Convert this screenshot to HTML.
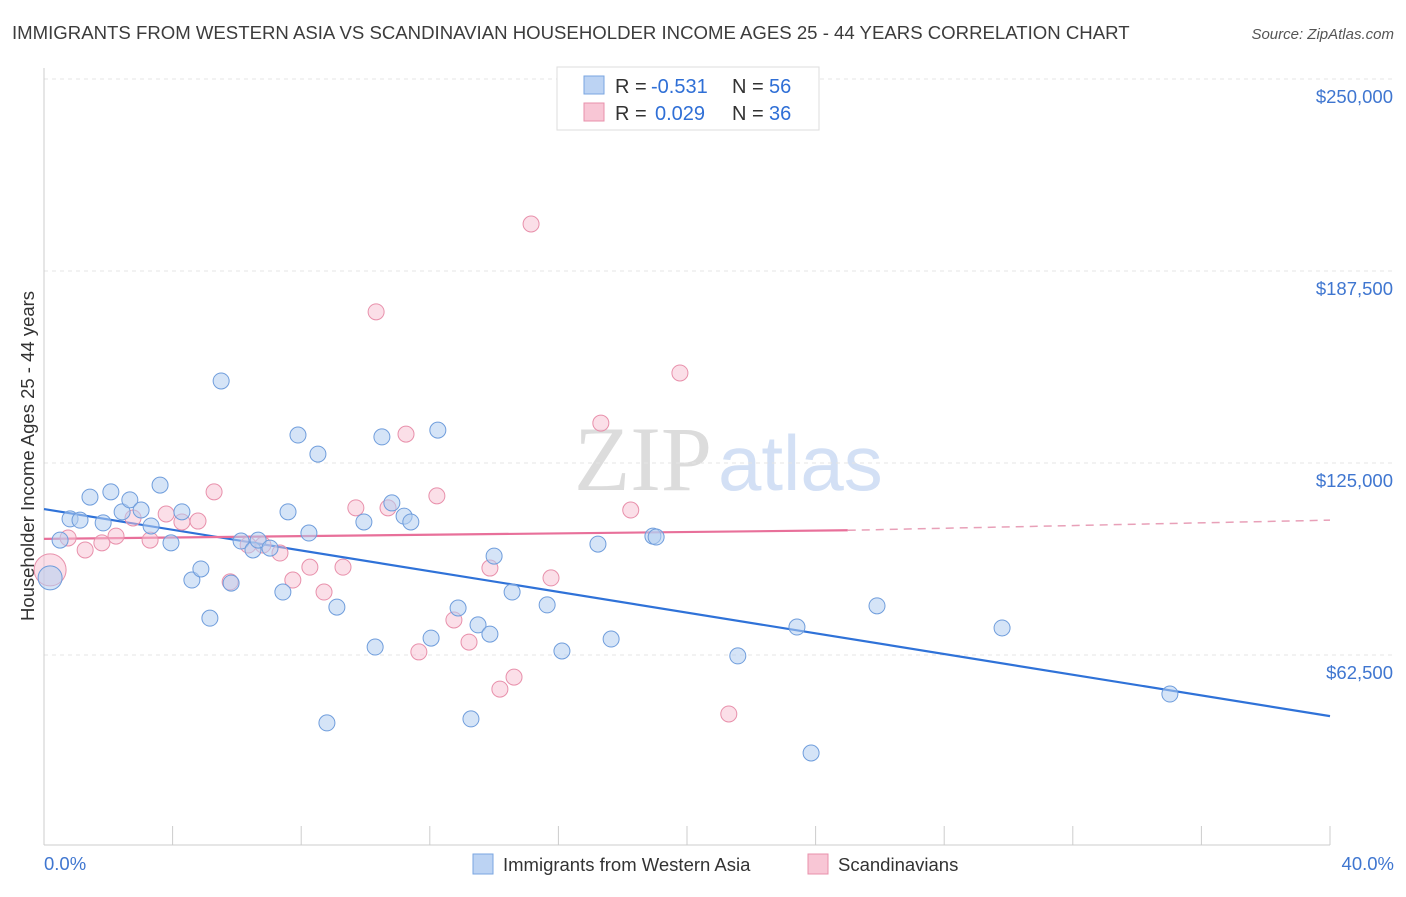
<!DOCTYPE html>
<html><head><meta charset="utf-8"><style>
body{margin:0;background:#fff;font-family:"Liberation Sans",sans-serif;}
svg text{font-family:"Liberation Sans",sans-serif;}
</style></head><body>
<svg id="chart" width="1406" height="892" xmlns="http://www.w3.org/2000/svg">
<text x="12" y="39" font-size="18.6" fill="#3c3c3c">IMMIGRANTS FROM WESTERN ASIA VS SCANDINAVIAN HOUSEHOLDER INCOME AGES 25 - 44 YEARS CORRELATION CHART</text>
<text x="1394" y="39" font-size="15" fill="#555" font-style="italic" text-anchor="end">Source: ZipAtlas.com</text>
<g>
<text x="712" y="490" font-size="92" fill="#dcdcdc" text-anchor="end" style="font-family:'Liberation Serif',serif">ZIP</text>
<text x="718" y="490" font-size="78" fill="#d3e0f5">atlas</text>
</g>
<g id="grid"></g>
<g id="axes"></g>
<g id="lines"></g>
<g id="pts"></g>
<g>
<rect x="557" y="67" width="262" height="63" fill="#fff" stroke="#ddd"/>
<rect x="584" y="76" width="20" height="18" fill="#bcd3f3" stroke="#7aa6e0"/>
<rect x="584" y="103" width="20" height="18" fill="#f8c6d5" stroke="#e890ab"/>
<g font-size="20">
<text x="615" y="93" fill="#333">R =</text><text x="651" y="93" fill="#2f6fd6">-0.531</text>
<text x="732" y="93" fill="#333">N =</text><text x="769" y="93" fill="#2f6fd6">56</text></g>
<g font-size="20">
<text x="615" y="120" fill="#333">R =</text><text x="655" y="120" fill="#2f6fd6">0.029</text>
<text x="732" y="120" fill="#333">N =</text><text x="769" y="120" fill="#2f6fd6">36</text></g>
</g>
<g>
<rect x="473" y="854" width="20" height="20" fill="#bcd3f3" stroke="#7aa6e0"/>
<text x="503" y="871" font-size="18.5" fill="#333">Immigrants from Western Asia</text>
<rect x="808" y="854" width="20" height="20" fill="#f8c6d5" stroke="#e890ab"/>
<text x="838" y="871" font-size="18.5" fill="#333">Scandinavians</text>
</g>
</svg>
<script>
const blueX=[0.19,0.50,0.81,1.12,1.43,1.84,2.08,2.43,2.67,3.02,3.33,3.61,3.95,4.29,4.60,4.88,5.16,5.51,5.82,6.13,6.50,6.66,7.03,7.43,7.59,7.90,8.24,8.52,8.80,9.11,9.95,10.30,10.51,10.82,11.20,11.41,12.04,12.25,12.88,13.28,13.50,13.87,14.00,14.56,15.65,16.11,17.23,17.64,18.94,19.04,21.58,23.42,23.86,25.91,29.80,35.02];
const blueY=[87.6,99.9,106.8,106.4,113.9,105.5,115.6,109.1,113.0,109.7,104.5,117.8,99.0,109.1,86.9,90.5,74.5,151.7,85.9,99.6,96.7,99.9,97.3,83.0,109.1,134.1,102.2,127.9,40.4,78.1,105.8,65.1,133.5,112.0,107.7,105.8,68.0,135.7,77.8,41.7,72.3,69.3,94.7,83.0,78.8,63.8,98.6,67.7,101.2,100.9,62.2,71.6,30.6,78.5,71.3,49.8];
const pinkX=[0.19,0.75,1.28,1.80,2.24,2.77,3.30,3.80,4.29,4.79,5.29,5.79,6.35,6.81,7.34,7.74,8.27,8.71,9.30,9.70,10.33,10.70,11.26,11.66,12.22,12.75,13.22,13.87,14.18,14.62,15.15,15.77,17.32,18.25,19.78,21.30];
const pinkY=[90.2,100.6,96.7,99.0,101.2,107.1,99.9,108.4,105.8,106.1,115.6,86.3,98.3,98.3,95.7,86.9,91.1,83.0,91.1,110.4,174.2,110.4,134.4,63.5,114.3,73.9,66.7,90.8,51.4,55.3,202.8,87.6,138.0,109.7,154.3,43.3];
const yTicks=[62.5,125,187.5,250];
const yTickLabels=["$62,500","$125,000","$187,500","$250,000"];
const xTicks=[0,4,8,12,16,20,24,28,32,36,40];
const blueTrend=[[0,110.0],[40,42.6]];
const pinkTrend=[[0,100.3],[25,103.1],[40,106.4]];
const NS="http://www.w3.org/2000/svg";
const sx=v=>44+v/40*1286;
const sy=v=>847-v/62.5*192;
function mk(tag,attrs,parent){const e=document.createElementNS(NS,tag);for(const k in attrs)e.setAttribute(k,attrs[k]);document.getElementById(parent).appendChild(e);return e;}
yTicks.forEach((t,i)=>{
 const g=mk('line',{x1:44,x2:1394,y1:sy(t),y2:sy(t),stroke:'#e4e4e4','stroke-dasharray':'4,4'},'grid');
 
 
 const l=mk('text',{x:1393,y:sy(t)+24,'font-size':18.5,fill:'#3f76d0','text-anchor':'end'},'axes');
 l.textContent=yTickLabels[i];
 
 
});
const ax=mk('line',{x1:44,x2:1330,y1:845,y2:845,stroke:'#ccc'},'axes');


const ay=mk('line',{x1:44,x2:44,y1:68,y2:845,stroke:'#ccc'},'axes');


xTicks.forEach(t=>{
 const k=mk('line',{x1:sx(t),x2:sx(t),y1:826,y2:845,stroke:'#ccc'},'axes');
 
 
});
const xl0=mk('text',{x:44,y:870,'font-size':18.5,fill:'#3f76d0'},'axes');xl0.textContent='0.0%';


const xl1=mk('text',{x:1394,y:870,'font-size':18.5,fill:'#3f76d0','text-anchor':'end'},'axes');xl1.textContent='40.0%';


const yt=mk('text',{x:34,y:456,'font-size':18.5,fill:'#333','text-anchor':'middle',transform:'rotate(-90 34 456)'},'axes');yt.textContent='Householder Income Ages 25 - 44 years';


pinkX.forEach((x,i)=>{
 const c=mk('circle',{cx:sx(x),cy:sy(pinkY[i]),r:i===0?16:8,fill:'#f8c0d2','fill-opacity':0.5,stroke:'#e890ab','stroke-width':1},'pts');
 
 
});
blueX.forEach((x,i)=>{
 const c=mk('circle',{cx:sx(x),cy:sy(blueY[i]),r:i===0?12:8,fill:'#b3cdf1','fill-opacity':0.55,stroke:'#6f9ddc','stroke-width':1},'pts');
 
 
});
const bl=mk('line',{x1:sx(blueTrend[0][0]),y1:sy(blueTrend[0][1]),x2:sx(blueTrend[1][0]),y2:sy(blueTrend[1][1]),stroke:'#2f72d8','stroke-width':2.2},'lines');


const pl=mk('line',{x1:sx(pinkTrend[0][0]),y1:sy(pinkTrend[0][1]),x2:sx(pinkTrend[1][0]),y2:sy(pinkTrend[1][1]),stroke:'#e8709a','stroke-width':2.2},'lines');


const pd=mk('line',{x1:sx(pinkTrend[1][0]),y1:sy(pinkTrend[1][1]),x2:sx(pinkTrend[2][0]),y2:sy(pinkTrend[2][1]),stroke:'#e8a0b8','stroke-width':1.5,'stroke-dasharray':'8,6'},'lines');


</script>
</body></html>
